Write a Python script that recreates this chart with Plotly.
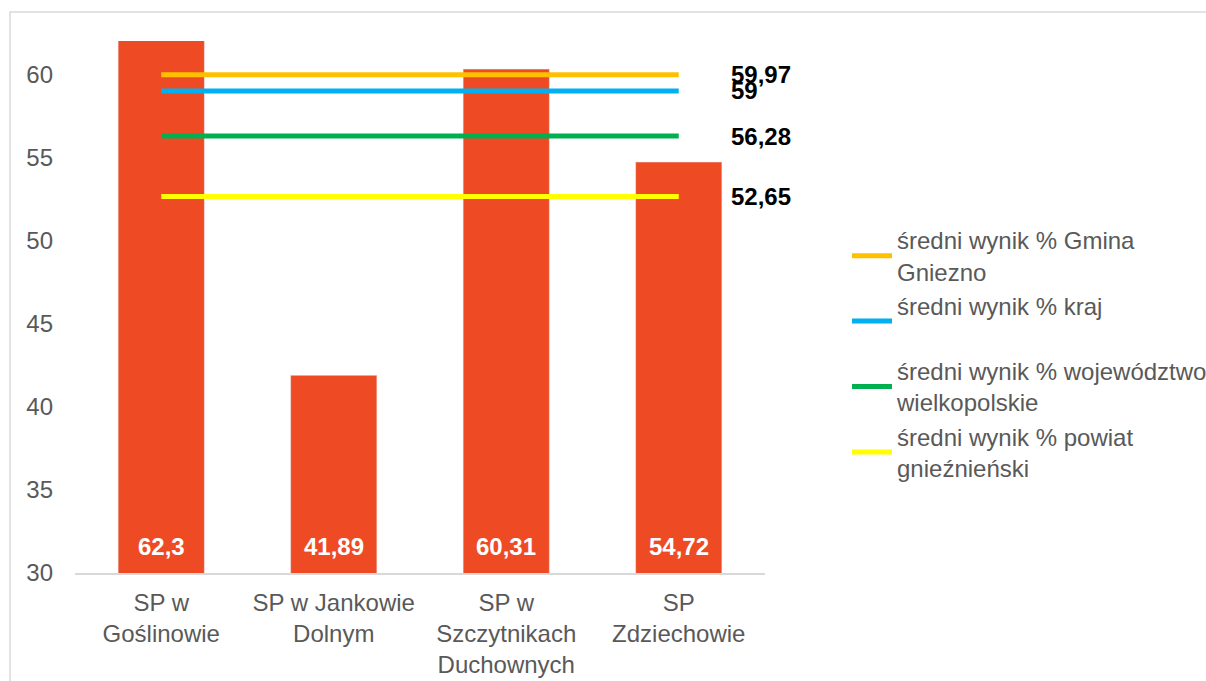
import plotly.graph_objects as go

categories = ["SP w<br>Goślinowie", "SP w Jankowie<br>Dolnym", "SP w<br>Szczytnikach<br>Duchownych", "SP<br>Zdziechowie"]
school_values = [62.3, 41.89, 60.31, 54.72]

gmina_values = [59.97, 59.97, 59.97, 59.97]
kraj_values = [59, 59, 59, 59]
wojewodztwo_values = [56.28, 56.28, 56.28, 56.28]
powiat_values = [52.65, 52.65, 52.65, 52.65]

series_names = [
    "średni wynik % Gmina<br>Gniezno",
    "średni wynik % kraj<br> ",
    "średni wynik % województwo<br>wielkopolskie",
    "średni wynik % powiat<br>gnieźnieński",
]
series_values = [gmina_values, kraj_values, wojewodztwo_values, powiat_values]
series_colors = ["#FFC000", "#00B0F0", "#00B050", "#FFFF00"]

y_ticks = [30, 35, 40, 45, 50, 55, 60]
y_range = [30, 62]

W, H = 1206, 681
L, R, T, B = 75, 765, 41, 573
FONT = "Liberation Sans, Arial, sans-serif"
GRAY = "#595959"


def fmt(v):
    return f"{v:g}".replace(".", ",")


fig = go.Figure()
fig.add_trace(go.Bar(
    x=categories, y=school_values, marker_color="#EE4B25", width=0.5,
    showlegend=False, hoverinfo="skip",
))
for name, vals, col in zip(series_names, series_values, series_colors):
    fig.add_trace(go.Scatter(
        x=categories, y=vals, mode="lines", name=name,
        line=dict(color=col, width=5), legendgroup=name,
    ))

annotations = []
for c, v in zip(categories, school_values):
    annotations.append(dict(
        x=c, y=y_range[0], xref="x", yref="y", text=fmt(v), showarrow=False,
        yanchor="bottom", yshift=11,
        font=dict(family=FONT, size=24, color="white", weight="bold"),
    ))
for vals in series_values:
    annotations.append(dict(
        x=categories[-1], y=vals[-1], xref="x", yref="y", text=fmt(vals[-1]),
        showarrow=False, xanchor="left", yanchor="middle", xshift=50,
        font=dict(family=FONT, size=24, color="black", weight="bold"),
    ))

pw, ph = R - L, B - T
border = dict(
    type="rect", xref="paper", yref="paper",
    x0=(10 - L) / pw, x1=(W + 20 - L) / pw,
    y0=(B - (H + 20)) / ph, y1=(B - 12) / ph,
    line=dict(color="#D9D9D9", width=1.5), layer="below",
)

fig.update_layout(
    width=W, height=H,
    margin=dict(l=L, r=W - R, t=T, b=H - B, pad=0, autoexpand=False),
    paper_bgcolor="white", plot_bgcolor="white",
    font=dict(family=FONT, size=24, color=GRAY),
    bargap=0.5,
    showlegend=True,
    legend=dict(
        x=(847 - L) / pw, y=(B - 218) / ph, xanchor="left", yanchor="top",
        font=dict(family=FONT, size=24, color=GRAY),
        tracegroupgap=0, itemwidth=40, bgcolor="rgba(0,0,0,0)",
    ),
    xaxis=dict(
        range=[-0.5, len(categories) - 0.5], automargin=False,
        showgrid=False, zeroline=False, showline=True, linecolor="#D9D9D9",
        linewidth=1.5, tickfont=dict(family=FONT, size=24, color=GRAY),
        ticks="", ticklabelstandoff=7,
    ),
    yaxis=dict(
        range=y_range, tickvals=y_ticks, showgrid=False, zeroline=False,
        automargin=False,
        showline=False, ticks="", ticklabelstandoff=21,
        tickfont=dict(family=FONT, size=24, color=GRAY),
    ),
    annotations=annotations,
    shapes=[border],
)

fig.write_html(
    "out.html",
    config={"displayModeBar": False},
    post_script="document.body.style.margin='0';document.body.style.overflow='hidden';",
)
